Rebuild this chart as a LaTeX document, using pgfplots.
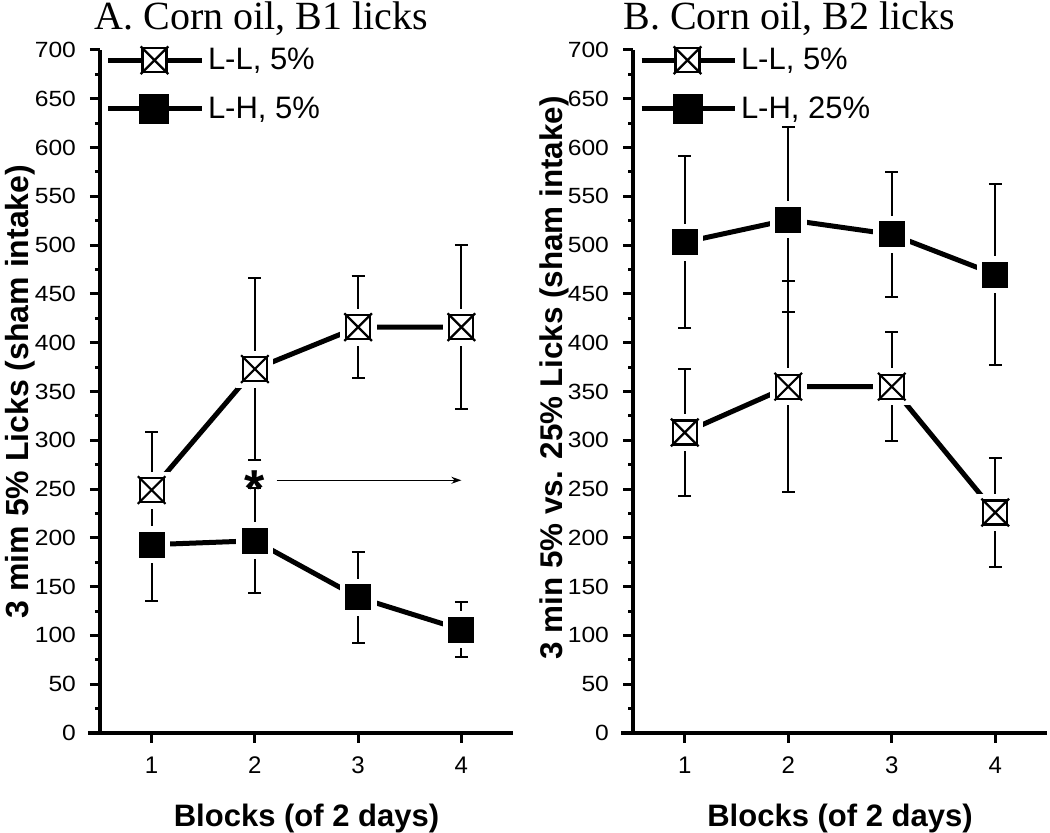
\documentclass[border=0pt]{standalone}
\usepackage{fontspec}
\setmainfont{Liberation Sans}
\newfontfamily\tnr{Liberation Serif}
\usepackage{graphicx}
\usepackage{pgfplots}
\pgfplotsset{compat=1.18}
\usetikzlibrary{arrows.meta}

\pgfdeclareplotmark{sqx}{%
  \pgfpathrectangle{\pgfpoint{-\pgfplotmarksize}{-\pgfplotmarksize}}{\pgfpoint{2\pgfplotmarksize}{2\pgfplotmarksize}}%
  \pgfusepathqfillstroke
  \pgfpathmoveto{\pgfpoint{-1.15\pgfplotmarksize}{-1.15\pgfplotmarksize}}%
  \pgfpathlineto{\pgfpoint{1.15\pgfplotmarksize}{1.15\pgfplotmarksize}}%
  \pgfpathmoveto{\pgfpoint{-1.15\pgfplotmarksize}{1.15\pgfplotmarksize}}%
  \pgfpathlineto{\pgfpoint{1.15\pgfplotmarksize}{-1.15\pgfplotmarksize}}%
  \pgfusepathqstroke
}

\pgfplotstableread{
x y e
1 249 59
2 373 93
3 416 52
4 416 84
}\ALL
\pgfplotstableread{
x y e
1 193 58
2 197 54
3 139 47
4 106 28
}\ALH
\pgfplotstableread{
x y e
1 308 65
2 355 108
3 355 56
4 226 56
}\BLL
\pgfplotstableread{
x y e
1 503 88
2 526 95
3 511 64
4 470 93
}\BLH

\pgfplotsset{
  panel/.style={
    scale only axis, height=341.5pt,
    xmin=0.5, xmax=4.5, ymin=0, ymax=700,
    axis lines=left,
    axis line style={line width=1.6pt, -},
    x axis line style={shorten <=-6pt},
    xtick={1,2,3,4}, ytick={0,50,...,700}, minor y tick num=1,
    tick align=outside, tick pos=left,
    major tick length=5pt, minor tick length=2.5pt,
    every tick/.style={line width=1.5pt, black},
    clip=false,
    /pgf/number format/assume math mode=true,
    xticklabel style={font=\fontsize{12}{14}\selectfont, yshift=-3.5pt},
    yticklabel={\scalebox{1.12}[1]{\pgfmathprintnumber{\tick}}},
    yticklabel style={font=\fontsize{11}{13}\selectfont, xshift=-3.5pt},
    xlabel={Blocks (of 2 days)},
    xlabel style={at={(axis description cs:0.5,-0.1376)}, anchor=base, font=\bfseries\fontsize{15.5}{18}\selectfont},
    ylabel style={anchor=center},
    legend style={draw=none, fill=none, at={(axis description cs:0,1)}, anchor=north west,
      xshift=3pt, yshift=3pt, font=\fontsize{15.5}{18}\selectfont, row sep=8pt,
      inner sep=0pt, outer sep=0pt},
    legend cell align=left,
    legend image code/.code={\draw[mark repeat=2,mark phase=2] plot coordinates {(0pt,0pt) (23pt,0pt) (46.5pt,0pt)};},
  },
  ln/.style={line width=2.5pt, black, no marks, forget plot},
  halo/.style={only marks, mark=square*, mark size=9pt, mark options={draw=white, fill=white}, forget plot},
  eb/.style={only marks, mark=none, forget plot,
    error bars/.cd, y dir=both, y explicit,
    error bar style={line width=1pt, black},
    error mark options={line width=1pt, black, mark size=3.2pt, rotate=90}},
  mLL/.style={only marks, mark=sqx, mark size=6pt, mark options={fill=white, draw=black, line width=1.1pt}, forget plot},
  mLH/.style={only marks, mark=square*, mark size=6.25pt, mark options={fill=black, draw=black}, forget plot},
}

\begin{document}
\begin{tikzpicture}
\path[use as bounding box] (0,0) rectangle (525pt,416.5pt);

\begin{axis}[panel, at={(50pt,50pt)}, anchor=south west, width=206.5pt,
  ylabel={3 mim 5\% Licks (sham intake)},
  ylabel style={at={(axis description cs:-0.194,0.5)}, font=\bfseries\fontsize{16}{19}\selectfont}]
  \addplot[ln] table[x=x,y=y] {\ALL};
  \addplot[ln] table[x=x,y=y] {\ALH};
  \addplot[halo] table[x=x,y=y] {\ALL};
  \addplot[halo] table[x=x,y=y] {\ALH};
  \addplot[eb] table[x=x,y=y,y error=e] {\ALL};
  \addplot[eb] table[x=x,y=y,y error=e] {\ALH};
  \addplot[mLL] table[x=x,y=y] {\ALL};
  \addplot[mLH] table[x=x,y=y] {\ALH};
  \addlegendimage{line width=2.5pt, black, mark=sqx, mark size=6pt, mark options={fill=white, draw=black, line width=1.1pt}}
  \addlegendentry{L-L, 5\%}
  \addlegendimage{line width=2.5pt, black, mark=square*, mark size=6.25pt}
  \addlegendentry{L-H, 5\%}
  \node[font=\bfseries\fontsize{26}{28}\selectfont] at (axis cs:2,250) {*};
  \draw[line width=0.7pt, -{Stealth[length=5pt, width=3.5pt]}] (axis cs:2.21,259) -- (axis cs:4.0,259);
\end{axis}

\begin{axis}[panel, at={(316.5pt,50pt)}, anchor=south west, width=207pt,
  ylabel={3 min 5\% vs. 25\% Licks (sham intake)},
  ylabel style={at={(axis description cs:-0.19,0.52)}, font=\bfseries\fontsize{15.7}{18}\selectfont}]
  \addplot[ln] table[x=x,y=y] {\BLL};
  \addplot[ln] table[x=x,y=y] {\BLH};
  \addplot[halo] table[x=x,y=y] {\BLL};
  \addplot[halo] table[x=x,y=y] {\BLH};
  \addplot[eb] table[x=x,y=y,y error=e] {\BLL};
  \addplot[eb] table[x=x,y=y,y error=e] {\BLH};
  \addplot[mLL] table[x=x,y=y] {\BLL};
  \addplot[mLH] table[x=x,y=y] {\BLH};
  \addlegendimage{line width=2.5pt, black, mark=sqx, mark size=6pt, mark options={fill=white, draw=black, line width=1.1pt}}
  \addlegendentry{L-L, 5\%}
  \addlegendimage{line width=2.5pt, black, mark=square*, mark size=6.25pt}
  \addlegendentry{L-H, 25\%}
\end{axis}

\node[font=\tnr\fontsize{20}{23}\selectfont, anchor=base] at (130.75pt,401.5pt) {A. Corn oil, B1 licks};
\node[font=\tnr\fontsize{20}{23}\selectfont, anchor=base] at (394.5pt,401.5pt) {B. Corn oil, B2 licks};
\end{tikzpicture}
\end{document}
